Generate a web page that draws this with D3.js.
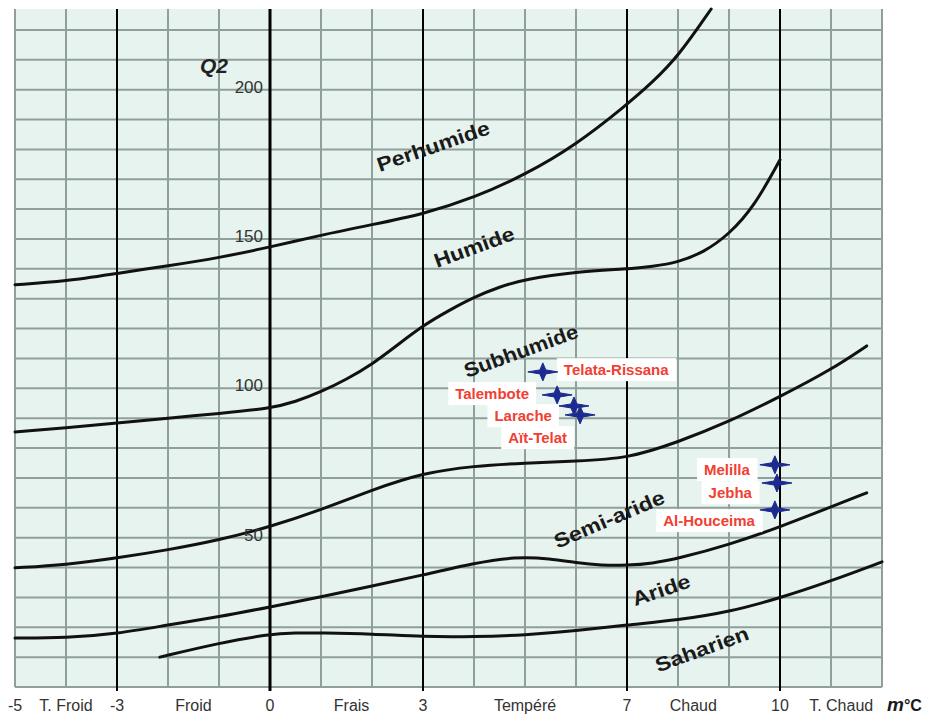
<!DOCTYPE html>
<html>
<head>
<meta charset="utf-8">
<script src="https://cdn.jsdelivr.net/npm/d3@7"></script>
<style>
  body { margin: 0; background: #fff; }
  svg { display: block; font-family: "Liberation Sans", Arial, sans-serif; }
</style>
</head>
<body>
<svg id="chart" width="926" height="717"></svg>
<script>
// Emberger climagram: pluviothermic quotient Q2 against m (°C)

// Bioclimatic boundaries as [m, Q2] pairs
const perhumideLimit = [[-5,134.7],[-4,135.8],[-3,138.5],[-2,141],[-1,143.7],[0,147.3],[1,151.3],[2,154.8],[3,158.3],[4,163.8],[5,171.5],[6,181.5],[7,195],[7.5,202.5],[8,211],[8.65,227]];
const humideLimit = [[-5,85.4],[-4,86.8],[-3,88.4],[-2,90],[-1,91.6],[0,93.2],[0.5,95.5],[1,98.8],[1.5,103],[2,108],[2.5,114.5],[3,121],[3.5,126],[4,130.5],[4.5,134],[5,136.5],[6,139],[7,140],[7.5,140.8],[8,142.2],[8.5,145.5],[9,151.5],[9.5,161],[10,176.5]];
const subhumideLimit = [[-5,39.9],[-4,40.9],[-3,43.2],[-2,45.9],[-1,49.2],[0,53.6],[1,59.3],[2,66],[3,71.7],[4,74],[5,75],[6,75.7],[7,76.4],[8,82],[9,88.8],[10,97.2],[11,106.2],[11.7,114.2]];
const semiAridLimit = [[-5,16.4],[-4,16.4],[-3,17.8],[-2,20.8],[-1,23.5],[0,26.8],[1,30.2],[2,33.8],[3,37.5],[4,41.5],[4.8,43.6],[5.5,43],[6,41.6],[6.5,40.7],[7,40.7],[7.5,41.4],[8,43],[9,47.6],[10,53.6],[11,60.3],[11.7,65]];
const arideLimit = [[-2.16,10],[-1,14.7],[0,17.8],[0.5,18.1],[1,18.1],[2,17.8],[3,16.8],[4,16.8],[5,17.4],[6,18.8],[7,20.8],[8,22.4],[9,25.1],[10,29.8],[11,35.5],[12,41.9]];

const zoneNames = ["Perhumide", "Humide", "Subhumide", "Semi-aride", "Aride", "Saharien"];

// Stations
const stations = ["Telata-Rissana", "Talembote", "Larache", "Aït-Telat", "Melilla", "Jebha", "Al-Houceima"];
const stationM = [5.35, 5.63, 5.96, 6.08, 9.9, 9.94, 9.9];
const stationQ2 = [105.5, 97.8, 94.1, 91.1, 74.4, 68.3, 59.3];

// Axis ticks
const q2Ticks = [50, 100, 150, 200];
const mTicks = [-5, -4, -3, -1.5, 0, 1.6, 3, 5, 7, 8.3, 10, 11.2];
const mTickLabels = ["-5", "T. Froid", "-3", "Froid", "0", "Frais", "3", "Tempéré", "7", "Chaud", "10", "T. Chaud"];
const majorM = [-3, 0, 3, 7, 10];

// ---- layout ----
const svg = d3.select("#chart");
const x = d3.scaleLinear().domain([-5, 12]).range([15, 882]);
const y = d3.scaleLinear().domain([0, 227]).range([687, 9]);

// zone label placement: [m, Q2, rotation, text length]
const zonePlacement = {
  "Perhumide":  [3.2, 181.1, -19, 118],
  "Humide":     [4.0, 147.3, -20, 84],
  "Subhumide":  [4.92, 112.5, -20, 120],
  "Semi-aride": [6.65, 56.2, -23, 118],
  "Aride":      [7.67, 32.5, -19, 60],
  "Saharien":   [8.47, 12.7, -20, 98]
};
// station label offsets in pixels: [dx, dy, anchor]
const stationLabelOffset = {
  "Telata-Rissana": [21, -2, "start"],
  "Talembote": [-28, -1, "end"],
  "Larache": [-22, 10, "end"],
  "Aït-Telat": [-13, 23, "end"],
  "Melilla": [-25, 5, "end"],
  "Jebha": [-25, 10, "end"],
  "Al-Houceima": [-20, 11, "end"]
};

// background
svg.append("rect")
  .attr("x", x(-5)).attr("y", y(227))
  .attr("width", x(12) - x(-5)).attr("height", y(0) - y(227))
  .attr("fill", "#e7f3ee");

// grid
const grid = svg.append("g").attr("stroke", "#919f9b").attr("stroke-width", 2);
grid.selectAll("line.h").data(d3.range(0, 221, 10)).join("line")
  .attr("x1", x(-5)).attr("x2", x(12))
  .attr("y1", d => y(d)).attr("y2", d => y(d));
grid.selectAll("line.v").data(d3.range(-5, 13, 1)).join("line")
  .attr("x1", d => x(d)).attr("x2", d => x(d))
  .attr("y1", y(227)).attr("y2", y(0));

// major temperature divisions
svg.append("g").selectAll("line").data(majorM).join("line")
  .attr("x1", d => x(d)).attr("x2", d => x(d))
  .attr("y1", y(227)).attr("y2", y(0) + 4)
  .attr("stroke", "#000")
  .attr("stroke-width", d => d === 0 ? 3 : 2);

// boundary curves
const line = d3.line()
  .x(d => x(d[0])).y(d => y(d[1]))
  .curve(d3.curveBasis);
svg.append("g").selectAll("path")
  .data([perhumideLimit, humideLimit, subhumideLimit, semiAridLimit, arideLimit])
  .join("path")
  .attr("d", line)
  .attr("fill", "none")
  .attr("stroke", "#111")
  .attr("stroke-width", 3)
  .attr("stroke-linecap", "round");

// zone names
svg.append("g").selectAll("text").data(zoneNames).join("text")
  .attr("transform", d => {
    const p = zonePlacement[d];
    return `translate(${x(p[0])},${y(p[1])}) rotate(${p[2]})`;
  })
  .attr("text-anchor", "middle")
  .attr("dy", "0.35em")
  .attr("textLength", d => zonePlacement[d][3])
  .attr("lengthAdjust", "spacingAndGlyphs")
  .attr("font-size", 20)
  .attr("font-weight", "bold")
  .attr("fill", "#1a1a1a")
  .text(d => d);

// station labels with white boxes
const labels = svg.append("g");
stations.forEach((name, i) => {
  const off = stationLabelOffset[name];
  const g = labels.append("g");
  const t = g.append("text")
    .attr("x", x(stationM[i]) + off[0])
    .attr("y", y(stationQ2[i]) + off[1])
    .attr("dy", "0.35em")
    .attr("text-anchor", off[2])
    .attr("font-size", 15)
    .attr("font-weight", "bold")
    .attr("fill", "#ef4032")
    .text(name);
  const b = t.node().getBBox();
  g.insert("rect", "text")
    .attr("x", b.x - 7).attr("y", b.y - 3)
    .attr("width", b.width + 14).attr("height", b.height + 6)
    .attr("fill", "#ffffff");
});

// station markers (four-pointed stars)
const star = "M-15,0L-3,-2L0,-9L3,-2L15,0L3,2L0,9L-3,2Z";
svg.append("g").selectAll("path").data(stations).join("path")
  .attr("transform", (d, i) => `translate(${x(stationM[i])},${y(stationQ2[i])})`)
  .attr("d", star)
  .attr("fill", "#1d2a8f")
  .attr("stroke", "#1d2a8f")
  .attr("stroke-width", 1)
  .attr("stroke-linejoin", "round");

// Q2 ticks
svg.append("g").selectAll("text").data(q2Ticks).join("text")
  .attr("x", x(0) - 7)
  .attr("y", d => y(d) - 3)
  .attr("dy", "0.35em")
  .attr("text-anchor", "end")
  .attr("font-size", 17)
  .attr("fill", "#333")
  .text(d => d);

svg.append("text")
  .attr("x", 200).attr("y", 73)
  .attr("font-size", 21)
  .attr("font-weight", "bold")
  .attr("font-style", "italic")
  .attr("fill", "#222")
  .text("Q2");

// m ticks
svg.append("g").selectAll("text").data(mTicks).join("text")
  .attr("x", d => x(d))
  .attr("y", 711)
  .attr("text-anchor", "middle")
  .attr("font-size", 16)
  .attr("fill", "#333")
  .text((d, i) => mTickLabels[i]);

const unit = svg.append("text")
  .attr("x", 887).attr("y", 711)
  .attr("fill", "#1a1a1a");
unit.append("tspan").attr("font-size", 19).attr("font-weight", "bold").attr("font-style", "italic").text("m");
unit.append("tspan").attr("font-size", 16).attr("font-weight", "bold").text("°C");
</script>
</body>
</html>
